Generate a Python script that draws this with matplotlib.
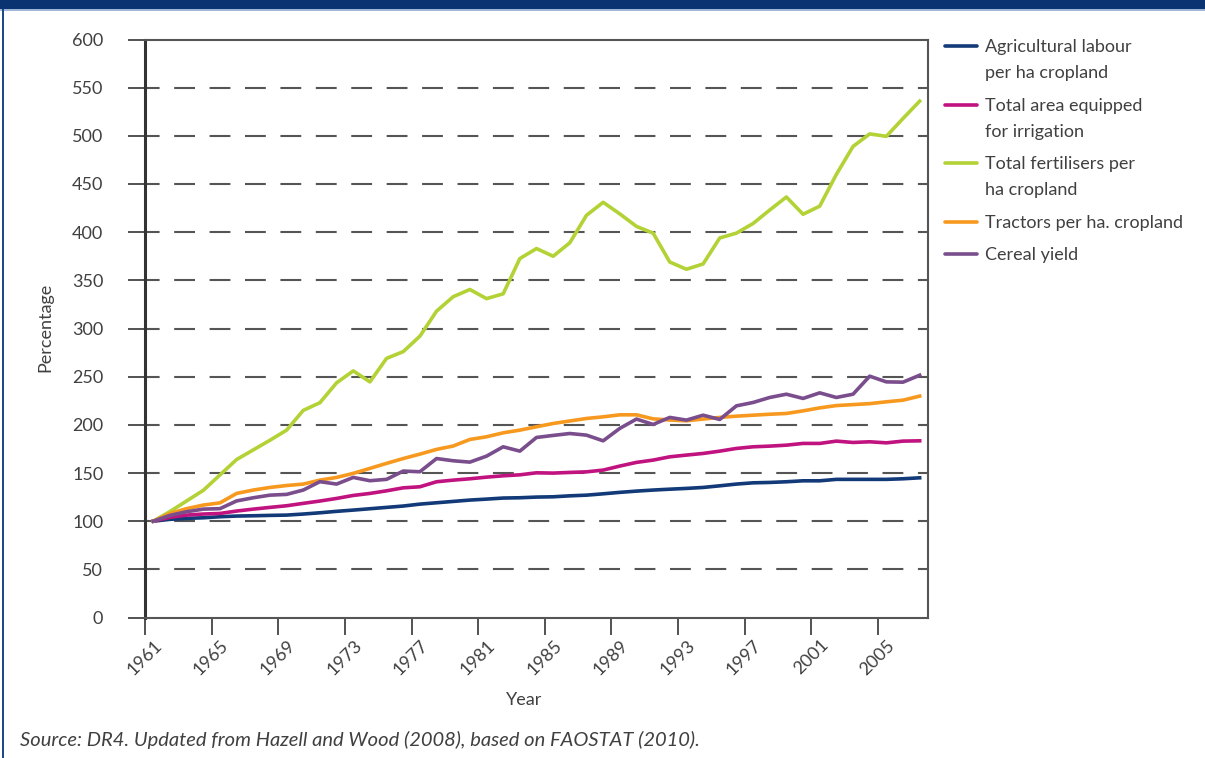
import matplotlib
matplotlib.use("Agg")

import matplotlib.pyplot as plt
from matplotlib.lines import Line2D
from matplotlib.patches import Rectangle
import numpy as np

plt.rcParams["font.family"] = ["Lato", "DejaVu Sans"]

W, H = 1205, 758

years = list(range(1961, 2008))

labour = [100, 101.9, 102.9, 103.5, 104.6, 105.3, 105.6, 106, 106.3, 107.4,
          108.7, 110.2, 111.5, 112.9, 114.3, 115.7, 117.7, 119.1, 120.5, 121.9,
          122.9, 124, 124.3, 125, 125.3, 126.3, 127, 128.4, 129.9, 131.2,
          132.3, 133.2, 134, 135, 136.7, 138.5, 139.8, 140.2, 140.9, 141.9,
          141.9, 143.4, 143.4, 143.4, 143.4, 144, 145]

irrigation = [100, 104, 106.3, 107.4, 108, 110.5, 112.5, 114.3, 116, 118.5,
              120.9, 123.6, 126.7, 128.8, 131.5, 134.6, 135.7, 140.9, 142.6, 144,
              145.7, 147.1, 148.1, 150.2, 149.9, 150.6, 151.2, 153, 157.2, 161,
              163.4, 166.8, 168.6, 170.3, 172.7, 175.5, 177.2, 177.9, 178.9, 180.7,
              180.7, 183.1, 181.7, 182.4, 181.3, 183.1, 183.4]

fertilisers = [100, 110, 121, 132, 148, 164, 174, 184, 194.5, 215,
               223, 243.6, 256, 244.6, 269, 276, 292, 318, 333, 340.5,
               331, 336, 372.6, 383, 375, 389, 417.5, 431, 419, 406,
               399, 369, 361.5, 367, 394, 399, 409, 423, 436.5, 418.6,
               427, 460, 489, 502, 499.5, 518, 536]

tractors = [100, 108, 113, 116.7, 119, 128.8, 132.3, 135, 137, 138.5,
            142.6, 145.4, 149.6, 154.8, 160, 165, 169.6, 174.5, 178, 184.8,
            187.6, 191.7, 194.5, 198, 201.4, 204, 206.6, 208.3, 210.4, 210.4,
            206.2, 205, 204.2, 206, 207.7, 209, 210, 211, 211.8, 214.5,
            217.6, 220, 221, 222, 223.9, 225.6, 229.8]

cereal = [100, 106, 109.8, 112.5, 113, 121, 124.3, 127, 127.8, 132.3,
          141, 138.5, 145.4, 142, 143.4, 152, 151.3, 165, 162.7, 161.3,
          167.5, 177.2, 172.7, 186.9, 189, 191, 189.3, 183.4, 196.3, 206,
          200.4, 207.7, 204.9, 210, 205.6, 219.7, 223.2, 228.4, 231.8, 227.4,
          233.2, 228.4, 231.8, 250.5, 244.6, 244.3, 251.5]

series = [labour, irrigation, fertilisers, tractors, cereal]
labels = ["Agricultural labour\nper ha cropland",
          "Total area equipped\nfor irrigation",
          "Total fertilisers per\nha cropland",
          "Tractors per ha. cropland",
          "Cereal yield"]
colors = ["#123a78", "#c0137f", "#b3d236", "#f7991f", "#7a4d8c"]

yticks = list(range(0, 601, 50))
label_years = years[::4][:12]

txt = "#404040"
fs = 13

fig = plt.figure(figsize=(W / 100, H / 100), dpi=100)
ax = fig.add_axes([145 / W, 1 - 617.5 / H, (928 - 145) / W, (617.5 - 39.5) / H])

x = np.arange(len(years))

# dashed grid
for v in yticks[1:-1]:
    ax.axhline(v, color="#555555", lw=1.5, ls=(3, (10, 7)), zorder=1)

for s, c in zip(series, colors):
    ax.plot(x, s, color=c, lw=2.6, solid_joinstyle="round", zorder=3)

ax.set_xlim(-0.5, len(years) - 0.5)
ax.set_ylim(0, 600)

ax.set_yticks(yticks)
ax.tick_params(axis="y", length=12, width=1.3, color="#444444", pad=18,
               labelsize=fs, labelcolor=txt)

# ticks between categories, labels on categories
ax.set_xticks(np.arange(-0.5, 44, 4))
ax.set_xticklabels([])
ax.tick_params(axis="x", which="major", length=12, width=1.3, color="#444444")
ax.set_xticks(np.arange(0, 45, 4) + 0.7, minor=True)
ax.set_xticklabels([str(y) for y in label_years], minor=True, rotation=45,
                   ha="right")
ax.tick_params(axis="x", which="minor", length=0, pad=14, labelsize=fs,
               labelcolor=txt)

for side in ["top", "right", "bottom"]:
    ax.spines[side].set_color("#555555")
    ax.spines[side].set_linewidth(1.5)
ax.spines["left"].set_color("#333333")
ax.spines["left"].set_linewidth(2.2)

fig.text(45 / W, 1 - 327 / H, "Percentage", rotation=90, ha="center",
         va="center", fontsize=fs, color=txt)
fig.text(524 / W, 1 - 700 / H, "Year", ha="center", va="center",
         fontsize=fs, color=txt)

# legend
first_line_y = [46, 105, 163, 222, 254]
for lab, c, y0 in zip(labels, colors, first_line_y):
    fig.add_artist(Line2D([945 / W, 977 / W], [1 - y0 / H, 1 - y0 / H],
                          color=c, lw=2.6, solid_capstyle="round"))
    for k, line in enumerate(lab.split("\n")):
        fig.text(985 / W, 1 - (y0 + 1 + 26 * k) / H, line, ha="left",
                 va="center", fontsize=fs, color=txt)

fig.text(20 / W, 1 - 740 / H,
         "Source: DR4. Updated from Hazell and Wood (2008), based on FAOSTAT (2010).",
         ha="left", va="center", fontsize=14.5, style="italic", color=txt)

# frame
fig.add_artist(Rectangle((0, 1 - 9 / H), 1, 9 / H, transform=fig.transFigure,
                         color="#0a3372", lw=0))
fig.add_artist(Rectangle((0, 1 - 10.5 / H), 1, 1.5 / H, transform=fig.transFigure,
                         color="#9fb6d8", lw=0))
fig.add_artist(Rectangle((1.5 / W, 0), 2.5 / W, 1 - 9 / H, transform=fig.transFigure,
                         color="#1e4a8c", lw=0))

fig.savefig("out.png", dpi=100)
